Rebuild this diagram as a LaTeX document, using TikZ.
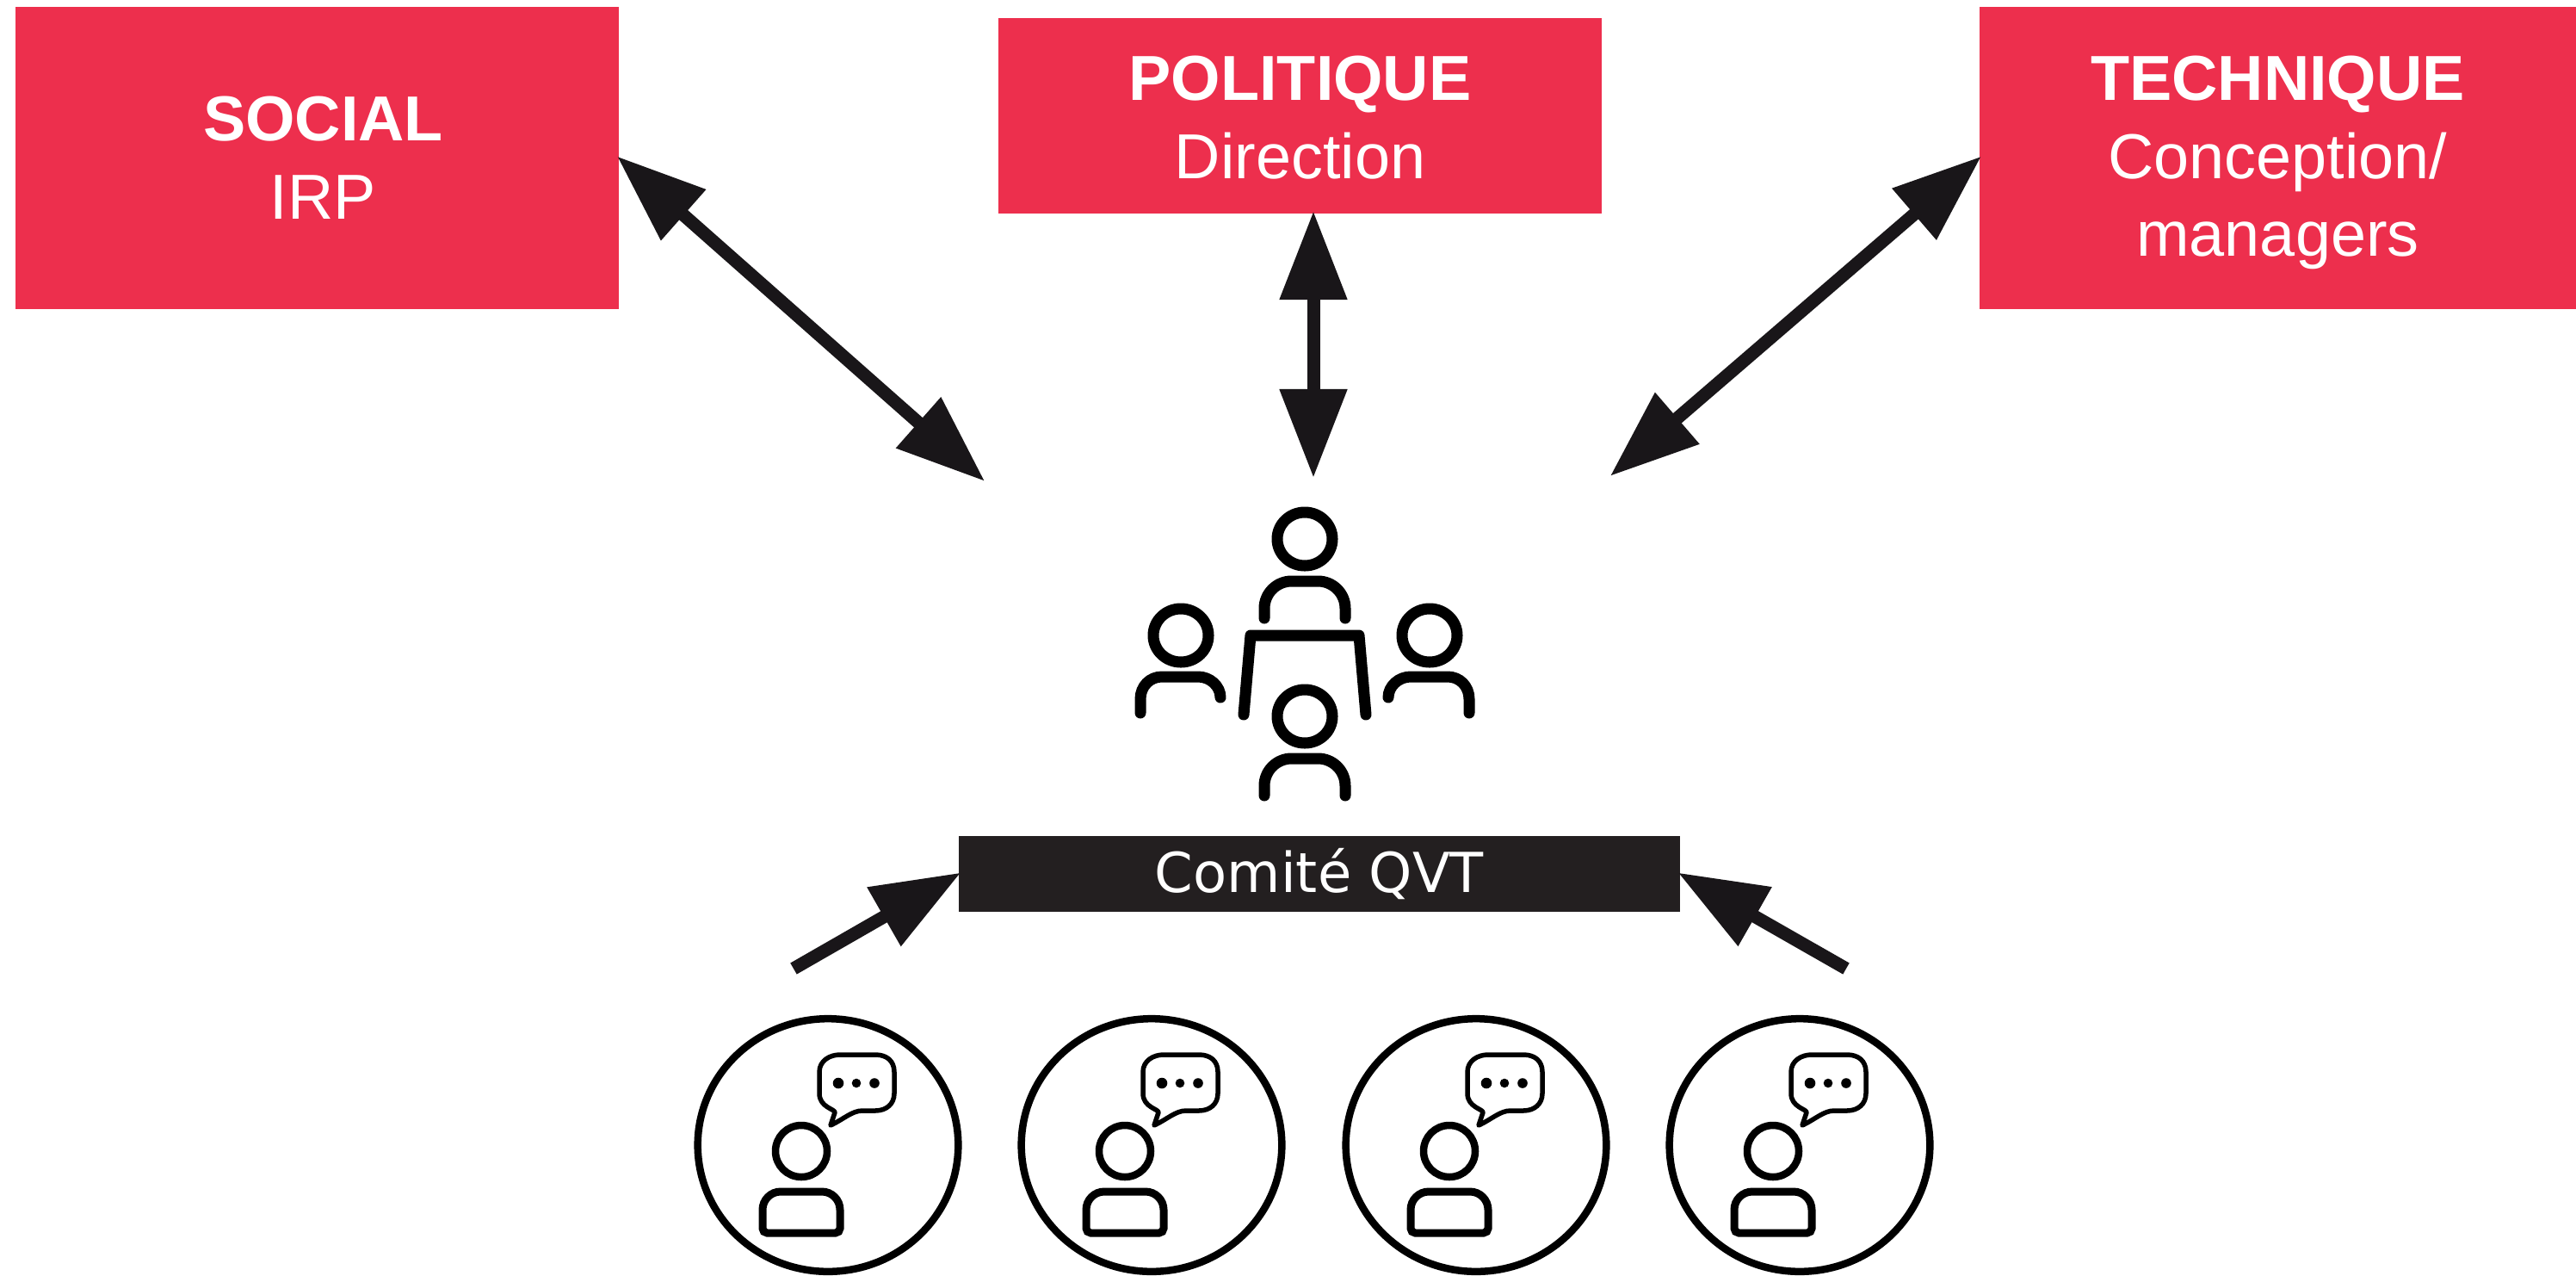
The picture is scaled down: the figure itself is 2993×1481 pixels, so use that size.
\documentclass[tikz,border=0pt]{standalone}
\usepackage{fontspec}
\setmainfont{Liberation Sans}
\newfontfamily\barfont{DejaVu Sans}
\usetikzlibrary{positioning, arrows.meta, shapes.geometric}
\definecolor{polered}{HTML}{ED2F4D}
\definecolor{bardark}{HTML}{231F20}
\definecolor{arrowdark}{HTML}{191619}

\begin{document}
\begin{tikzpicture}[
		x=0.01cm, y=-0.01cm,
		pole/.style={fill=polered, rectangle, inner sep=0pt, outer sep=0pt, minimum height=35.1mm, align=center, text=white, font=\fontsize{21}{25.8}\selectfont},
		bar/.style={fill=bardark, rectangle, inner sep=0pt, outer sep=0pt, minimum width=83.8mm, minimum height=8.8mm, text=white, font=\barfont\fontsize{18.2}{22}\selectfont},
		speaker/.style={draw=black, ellipse, inner sep=0pt, line width=0.85mm, minimum width=30.25mm, minimum height=29.35mm},
		link/.style={draw=arrowdark, line width=1.5mm, shorten >=-0.3mm, shorten <=-0.3mm, {Triangle[length=10.3mm, width=7.5mm]}-{Triangle[length=10.3mm, width=7.5mm]}},
		feed/.style={draw=arrowdark, line width=1.5mm, shorten >=-0.3mm, -{Triangle[length=10.3mm, width=7.5mm]}},
		icon/.style={draw=black, line width=1.3mm, line cap=round},
		person/.pic={
			\draw[icon] (0,0) circle[x radius=32, y radius=31];
			\draw[icon, rounded corners=9pt] (-47,92) -- (-47,49) -- (47,49) -- (47,92);
		},
		talker/.pic={
			\draw[line width=0.85mm] (-31,7) circle[radius=30];
			\draw[line width=0.9mm, rounded corners=6pt] (-76,102) [rounded corners=1.5pt] -- (14,102) [rounded corners=6pt] -- (14,54) -- (-76,54) [rounded corners=1.5pt] -- cycle;
			\draw[line width=0.55mm, line join=round] (-10,-85) .. controls (-10,-98) and (2,-105) .. (14,-105) -- (55,-105) .. controls (68,-105) and (77,-98) .. (77,-85) -- (77,-60) .. controls (77,-48) and (68,-40) .. (55,-40) -- (40,-40) .. controls (28,-40) and (18,-30) .. (3,-23) -- (8,-38) .. controls (8,-42) and (-10,-44) .. (-10,-60) -- cycle;
			\fill (12,-72) circle[radius=6.3];
			\fill (33,-72) circle[radius=5.3];
			\fill (54,-72) circle[radius=5.8];
		},
	]
	\useasboundingbox (0,0) rectangle (2993,1481);

	\node[pole, minimum width=70.1mm] (social) at (368.5,183.5) {\hspace*{1.4mm}\textbf{SOCIAL}\\\hspace*{1.4mm}IRP};
	\node[pole, minimum width=70.1mm, minimum height=22.7mm] (politique) at (1510.5,134.5) {\rule{0pt}{15.9pt}\textbf{POLITIQUE}\\Direction};
	\node[pole, minimum width=69.3mm] (technique) at (2646.5,183.5) {\rule{0pt}{17.8pt}\textbf{TECHNIQUE}\\Conception/\\managers};
	\node[bar] (comite) at (1533,1015) {Comité QVT};

	\coordinate (social_end) at (1142,557);
	\coordinate (politique_end) at (1526,552);
	\coordinate (technique_end) at (1873,551);
	\coordinate (feed_left) at (922,1125);
	\coordinate (feed_right) at (2145,1125);

	\draw[link] (social.east) -- (social_end);
	\draw[link] (politique.south -| politique_end) -- (politique_end);
	\draw[link] (technique.west) -- (technique_end);
	\draw[feed] (feed_left) -- (comite.west);
	\draw[feed] (feed_right) -- (comite.east);

	\pic at (1516,626) {person};
	\pic at (1516,832) {person};
	\draw[icon] (1325,828) -- (1325,812) .. controls (1325,797) and (1336,786) .. (1350,786) -- (1392,786) .. controls (1406,786) and (1418,797) .. (1418,810);
	\draw[icon] (1372,738) circle[x radius=32, y radius=31];
	\draw[icon] (1707,828) -- (1707,812) .. controls (1707,797) and (1696,786) .. (1682,786) -- (1639,786) .. controls (1625,786) and (1613,797) .. (1613,810);
	\draw[icon] (1661,738) circle[x radius=32, y radius=31];
	\draw[icon, line join=round] (1445,830) -- (1453,738) -- (1579,738) -- (1587,830);

	\node[speaker] (speaker_a) at (962,1330) {};
	\node[speaker] (speaker_b) at (1338,1330) {};
	\node[speaker] (speaker_c) at (1715,1330) {};
	\node[speaker] (speaker_d) at (2091,1330) {};
	\pic at (speaker_a) {talker};
	\pic at (speaker_b) {talker};
	\pic at (speaker_c) {talker};
	\pic at (speaker_d) {talker};
\end{tikzpicture}
\end{document}
